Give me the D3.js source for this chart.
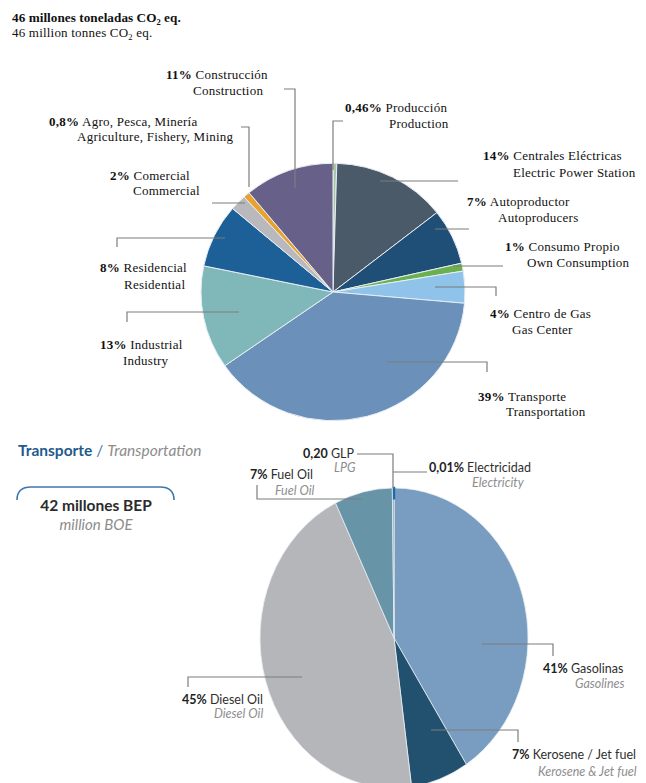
<!DOCTYPE html>
<html>
<head>
<meta charset="utf-8">
<script src="https://cdn.jsdelivr.net/npm/d3@7/dist/d3.min.js"></script>
<style>
  html, body { margin: 0; padding: 0; background: #fff; }
  svg { display: block; }
  .serif { font-family: "Liberation Serif", "Times New Roman", serif; fill: #111; }
  .sans { font-family: Lato, "Open Sans", sans-serif; }
  .leader { fill: none; stroke: #7d7d7d; stroke-width: 1.2; }
</style>
</head>
<body>
<svg id="chart" width="646" height="783"></svg>
<script>
// --- top pie: emissions by sector (CO2 eq.)
const sectorPct = ["0,46%", "14%", "7%", "1%", "4%", "39%", "13%", "8%", "2%", "0,8%", "11%"];
const sectorEs = ["Producción", "Centrales Eléctricas", "Autoproductor", "Consumo Propio", "Centro de Gas",
  "Transporte", "Industrial", "Residencial", "Comercial", "Agro, Pesca, Minería", "Construcción"];
const sectorEn = ["Production", "Electric Power Station", "Autoproducers", "Own Consumption", "Gas Center",
  "Transportation", "Industry", "Residential", "Commercial", "Agriculture, Fishery, Mining", "Construction"];
const sectorValues = [0.46, 14, 7, 1, 4, 39, 13, 8, 2, 0.8, 11];
const sectorColors = ["#a9c6a3", "#4b5a69", "#1f4f76", "#6bb04f", "#8fc3e9", "#6b90b9",
  "#80b8ba", "#1d5f97", "#b9b9bd", "#e9a22f", "#676089"];

// --- bottom pie: transport fuels
const fuelPct = ["0,01%", "41%", "7%", "45%", "7%", "0,20"];
const fuelEs = ["Electricidad", "Gasolinas", "Kerosene / Jet fuel", "Diesel Oil", "Fuel Oil", "GLP"];
const fuelEn = ["Electricity", "Gasolines", "Kerosene & Jet fuel", "Diesel Oil", "Fuel Oil", "LPG"];
const fuelValues = [0.01, 41, 7, 45, 7, 0.2];
const fuelColors = ["#1b6aa9", "#789dc0", "#22516f", "#b5b6ba", "#6894a8", "#6894a8"];

// label layout (line1 x,y ; line2 x,y ; leader polyline)
const sectorLayout = [
  {x1: 345, y1: 112, x2: 389, y2: 128, lead: [[343,121],[333,121],[333,170]]},
  {x1: 483, y1: 160, x2: 513, y2: 177, lead: [[380,181],[458,181]]},
  {x1: 467, y1: 206, x2: 498, y2: 222, lead: [[435,229],[469,229]]},
  {x1: 505, y1: 251, x2: 527, y2: 267, lead: [[453,266],[503,266]]},
  {x1: 490, y1: 318, x2: 512, y2: 334, lead: [[435,287],[496,287],[496,296]]},
  {x1: 478, y1: 401, x2: 506, y2: 416, lead: [[387,362],[487,362],[487,372]]},
  {x1: 100, y1: 349, x2: 123, y2: 365, lead: [[127,322],[127,312],[239,312]]},
  {x1: 100, y1: 272, x2: 124, y2: 289, lead: [[117,247],[117,238],[225,238]]},
  {x1: 110, y1: 180, x2: 133, y2: 195, lead: [[212,203],[245,203]]},
  {x1: 49, y1: 126, x2: 77, y2: 141, lead: [[241,127],[249,127],[249,187]]},
  {x1: 166, y1: 79, x2: 193, y2: 95, lead: [[284,89],[295,89],[295,188]]}
];
const fuelLayout = [
  {x1: 429, y1: 472, x2: 472, y2: 487, lead: [[393,472],[427,472]]},
  {x1: 543, y1: 673, x2: 575, y2: 688, lead: [[482,644],[553,644],[553,656]]},
  {x1: 512, y1: 759, x2: 538, y2: 776, lead: [[431,730],[518,730],[518,742]]},
  {x1: 182, y1: 704, x2: 214, y2: 718, lead: [[188,687],[188,677],[302,677]]},
  {x1: 250, y1: 479, x2: 275, y2: 495, lead: [[257,485],[257,499],[362,499]]},
  {x1: 303, y1: 458, x2: 334, y2: 472, lead: [[357,454],[393,454],[393,488]]}
];

const svg = d3.select("#chart");
const line = d3.line();

// title
const title = svg.append("g").attr("class", "serif");
const t1 = title.append("text").attr("x", 12).attr("y", 22).attr("font-size", 13.2)
  .attr("font-weight", "bold").attr("letter-spacing", 0.05);
t1.append("tspan").text("46 millones toneladas CO");
t1.append("tspan").attr("font-size", 8.5).attr("dy", 3).text("2");
t1.append("tspan").attr("dy", -3).text(" eq.");
const t2 = title.append("text").attr("x", 12).attr("y", 37).attr("font-size", 13).attr("letter-spacing", 0.2);
t2.append("tspan").text("46 million tonnes CO");
t2.append("tspan").attr("font-size", 8.5).attr("dy", 3).text("2");
t2.append("tspan").attr("dy", -3).text(" eq.");

// ---------- top pie ----------
const pie = d3.pie().sort(null).value(d => d);
const r1 = 132;
const arc1 = d3.arc().innerRadius(0).outerRadius(r1);
const g1 = svg.append("g").attr("transform", "translate(333,292) scale(1,0.975)");
g1.selectAll("path")
  .data(pie(sectorValues))
  .join("path")
  .attr("d", arc1)
  .attr("fill", (d, i) => sectorColors[i])
  .attr("stroke", "#e6eef5")
  .attr("stroke-width", 1)
  .attr("vector-effect", "non-scaling-stroke");

svg.append("g").selectAll("path")
  .data(sectorLayout)
  .join("path")
  .attr("class", "leader")
  .attr("d", d => line(d.lead));

const lab1 = svg.append("g").attr("class", "serif").attr("font-size", 13).attr("letter-spacing", 0.25);
sectorLayout.forEach((p, i) => {
  const t = lab1.append("text").attr("x", p.x1).attr("y", p.y1);
  t.append("tspan").attr("font-weight", "bold").text(sectorPct[i]);
  t.append("tspan").text(" " + sectorEs[i]);
  lab1.append("text").attr("x", p.x2).attr("y", p.y2).text(sectorEn[i]);
});

// ---------- bottom section ----------
const head = svg.append("text").attr("class", "sans").attr("x", 18).attr("y", 456).attr("font-size", 15.5);
head.append("tspan").attr("font-weight", "bold").attr("fill", "#1f5b8c").text("Transporte");
head.append("tspan").attr("fill", "#3b7bb8").text(" / ");
head.append("tspan").attr("font-style", "italic").attr("fill", "#8c8c8c").text("Transportation");

svg.append("path")
  .attr("d", "M17,500 Q17,487 31,487 L160,487 Q174,487 174,500")
  .attr("fill", "none").attr("stroke", "#3f77ad").attr("stroke-width", 1.6);
svg.append("text").attr("class", "sans").attr("x", 96).attr("y", 511).attr("text-anchor", "middle")
  .attr("font-size", 15.5).attr("font-weight", "bold").attr("fill", "#2b2b2b").text("42 millones BEP");
svg.append("text").attr("class", "sans").attr("x", 96).attr("y", 530).attr("text-anchor", "middle")
  .attr("font-size", 15).attr("font-style", "italic").attr("fill", "#8c8c8c").text("million BOE");

const r2 = 134;
const arc2 = d3.arc().innerRadius(0).outerRadius(r2);
const g2 = svg.append("g").attr("transform", "translate(394,638) scale(1,1.12)");
const fuelArcs = pie(fuelValues);
g2.selectAll("path")
  .data(fuelArcs)
  .join("path")
  .attr("d", arc2)
  .attr("fill", (d, i) => fuelColors[i])
  .attr("stroke", "#e8eef3")
  .attr("stroke-width", 0.8)
  .attr("vector-effect", "non-scaling-stroke");
// tiny electricity slice, made visible at the rim
g2.append("path")
  .datum(fuelArcs[0])
  .attr("d", d3.arc().innerRadius(r2 * 0.93).outerRadius(r2))
  .attr("fill", "none")
  .attr("stroke", fuelColors[0])
  .attr("stroke-width", 2.2)
  .attr("vector-effect", "non-scaling-stroke");

svg.append("g").selectAll("path")
  .data(fuelLayout)
  .join("path")
  .attr("class", "leader")
  .attr("stroke-width", 1.1)
  .attr("d", d => line(d.lead));

const lab2 = svg.append("g").attr("class", "sans").attr("font-size", 12.5);
fuelLayout.forEach((p, i) => {
  const t = lab2.append("text").attr("x", p.x1).attr("y", p.y1).attr("fill", "#2f2f2f");
  t.append("tspan").attr("font-weight", "bold").attr("fill", "#1e1e1e").text(fuelPct[i]);
  t.append("tspan").text(" " + fuelEs[i]);
  lab2.append("text").attr("x", p.x2).attr("y", p.y2)
    .attr("font-style", "italic").attr("fill", "#8e8e8e").text(fuelEn[i]);
});
</script>
</body>
</html>
